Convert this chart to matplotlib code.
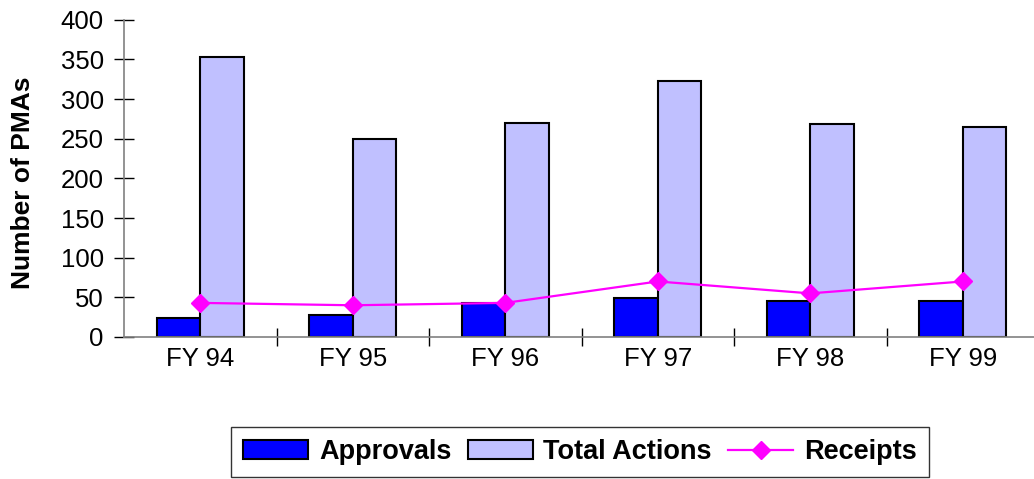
import numpy as np
import matplotlib

matplotlib.use("Agg")
import matplotlib.pyplot as plt

# values
years = ["FY 94", "FY 95", "FY 96", "FY 97", "FY 98", "FY 99"]
approvals = [24, 28, 43, 49, 46, 46]
total_actions = [353, 250, 270, 323, 268, 265]
receipts = [43, 40, 43, 70, 55, 70]
y_ticks = [0, 50, 100, 150, 200, 250, 300, 350, 400]

W, H = 1034, 479

plt.rcParams["font.family"] = ["Liberation Sans", "DejaVu Sans"]

fig = plt.figure(figsize=(W / 100, H / 100), dpi=100)
# axes box in pixels: left 124, right ~1039 (runs off the edge), top 20, bottom 337
left, right, top, bottom = 124, 1039, 19.7, 337
ax = fig.add_axes([left / W, 1 - bottom / H, (right - left) / W, (bottom - top) / H])

x = np.arange(len(years))
bw = 0.285
h1 = ax.bar(x - bw / 2, approvals, bw, color="#0000FF", edgecolor="black",
            linewidth=1.5, label="Approvals", zorder=2)
h2 = ax.bar(x + bw / 2, total_actions, bw, color="#C0C0FF", edgecolor="black",
            linewidth=1.5, label="Total Actions", zorder=2)
h3, = ax.plot(x, receipts, color="#FF00FF", linewidth=1.6, marker="D",
              markersize=9.5, label="Receipts", zorder=3)

ax.set_xlim(-0.5, len(years) - 0.5)
ax.set_ylim(0, 400)
ax.set_yticks(y_ticks)
ax.tick_params(axis="y", labelsize=18.5, direction="inout", length=15,
               width=1, pad=7, color="black")

# category labels centred, tick marks between the groups
ax.set_xticks(x)
ax.set_xticklabels(years)
ax.set_xticks(np.arange(0.5, len(years) - 0.5, 1.0), minor=True)
ax.tick_params(axis="x", which="major", length=0, labelsize=18.5, pad=7)
ax.tick_params(axis="x", which="minor", direction="inout", length=13,
               width=1, color="black")

for side in ["top", "right"]:
    ax.spines[side].set_visible(False)
for side in ["left", "bottom"]:
    ax.spines[side].set_color("#808080")
    ax.spines[side].set_linewidth(1.2)

fig.text(23 / W, 1 - 183 / H, "Number of PMAs", rotation=90, ha="center",
         va="center", fontsize=19, fontweight="bold")

leg = fig.legend([h1, h2, h3], ["Approvals", "Total Actions", "Receipts"],
                 loc="upper center", bbox_to_anchor=(580 / W, 1 - 427 / H),
                 ncol=3, frameon=True, fancybox=False,
                 prop={"weight": "bold", "size": 19.5},
                 handlelength=2.4, handletextpad=0.4, columnspacing=0.6,
                 borderpad=0.45, borderaxespad=0)
leg.get_frame().set_edgecolor("black")
leg.get_frame().set_linewidth(1.0)

fig.savefig("out.png", dpi=100)
